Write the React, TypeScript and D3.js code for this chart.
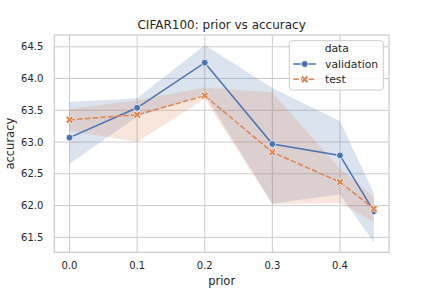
import React from 'react';
import * as d3 from 'd3';

// prior values on the x axis
const priors = [0, 0.1, 0.2, 0.3, 0.4, 0.45];

// validation accuracy: mean and confidence band
const valMean = [63.07, 63.54, 64.25, 62.97, 62.79, 61.91];
const valLow = [62.66, 63.40, 63.75, 62.03, 62.18, 61.42];
const valHigh = [63.63, 63.69, 64.53, 63.85, 63.33, 62.20];

// test accuracy: mean and confidence band
const testMean = [63.35, 63.43, 63.73, 62.84, 62.37, 61.95];
const testLow = [63.18, 63.00, 63.68, 62.02, 62.04, 61.74];
const testHigh = [63.52, 63.66, 63.86, 63.78, 62.58, 62.14];

const xTicks = [0, 0.1, 0.2, 0.3, 0.4];
const yTicks = [61.5, 62.0, 62.5, 63.0, 63.5, 64.0, 64.5];

const seriesNames = ['validation', 'test'];

const W = 432;
const H = 288;
const margin = { top: 35, right: 43, bottom: 35.7, left: 54.3 };

const BLUE = '#4c72b0';
const ORANGE = '#dd8452';
const GRID = '#cccccc';
const TEXT = '#262626';
const FONT = 'DejaVu Sans, sans-serif';

// matplotlib style filled "X" marker
function xMarkerPath(r: number, w: number) {
  const pts = [
    [-w, r], [w, r], [w, w], [r, w], [r, -w], [w, -w],
    [w, -r], [-w, -r], [-w, -w], [-r, -w], [-r, w], [-w, w],
  ];
  const c = Math.SQRT1_2;
  const rot = pts.map(([x, y]) => [(x - y) * c, (x + y) * c]);
  return 'M' + rot.map(p => p.join(',')).join('L') + 'Z';
}

export default function App() {
  const left = margin.left;
  const right = W - margin.right;
  const top = margin.top;
  const bottom = H - margin.bottom;

  const xPad = (d3.max(priors)! - d3.min(priors)!) * 0.05;
  const x = d3.scaleLinear()
    .domain([d3.min(priors)! - xPad, d3.max(priors)! + xPad])
    .range([left, right]);

  const yMin = d3.min([...valLow, ...testLow])!;
  const yMax = d3.max([...valHigh, ...testHigh])!;
  const yPad = (yMax - yMin) * 0.05;
  const y = d3.scaleLinear()
    .domain([yMin - yPad, yMax + yPad])
    .range([bottom, top]);

  const bandPath = (low: number[], high: number[]) =>
    d3.area<number>()
      .x((_, i) => x(priors[i]))
      .y0((_, i) => y(low[i]))
      .y1((_, i) => y(high[i]))(priors) || '';

  const line = (vals: number[]) =>
    d3.line<number>()
      .x((_, i) => x(priors[i]))
      .y(d => y(d))(vals) || '';

  const xPath = xMarkerPath(4.2, 1.3);

  return (
    <svg
      width={W}
      height={H}
      style={{ position: 'absolute', left: 0, top: 0, background: '#fff', fontFamily: FONT }}
    >
      {/* grid */}
      {xTicks.map(t => (
        <line key={'gx' + t} x1={x(t)} x2={x(t)} y1={top} y2={bottom} stroke={GRID} strokeWidth={1} />
      ))}
      {yTicks.map(t => (
        <line key={'gy' + t} x1={left} x2={right} y1={y(t)} y2={y(t)} stroke={GRID} strokeWidth={1} />
      ))}

      {/* confidence bands */}
      <path d={bandPath(valLow, valHigh)} fill={BLUE} fillOpacity={0.2} />
      <path d={bandPath(testLow, testHigh)} fill={ORANGE} fillOpacity={0.2} />

      {/* lines */}
      <path d={line(valMean)} fill="none" stroke={BLUE} strokeWidth={1.5} />
      <path d={line(testMean)} fill="none" stroke={ORANGE} strokeWidth={1.5} strokeDasharray="5.5,2.2" />

      {/* markers */}
      {valMean.map((v, i) => (
        <circle key={'vm' + i} cx={x(priors[i])} cy={y(v)} r={3.4} fill={BLUE} stroke="#fff" strokeWidth={0.75} />
      ))}
      {testMean.map((v, i) => (
        <path key={'tm' + i} d={xPath} transform={`translate(${x(priors[i])},${y(v)})`} fill={ORANGE} stroke="#fff" strokeWidth={0.75} />
      ))}

      {/* frame */}
      <rect x={left} y={top} width={right - left} height={bottom - top} fill="none" stroke={GRID} strokeWidth={1.25} />

      {/* tick labels */}
      {xTicks.map(t => (
        <text key={'tx' + t} x={x(t)} y={bottom + 17} textAnchor="middle" fontSize={10} fill={TEXT}>
          {d3.format('.1f')(t)}
        </text>
      ))}
      {yTicks.map(t => (
        <text key={'ty' + t} x={left - 11} y={y(t) + 3.6} textAnchor="end" fontSize={10} fill={TEXT}>
          {d3.format('.1f')(t)}
        </text>
      ))}

      {/* axis labels and title */}
      <text x={(left + right) / 2} y={H - 3.5} textAnchor="middle" fontSize={11.5} fill={TEXT}>prior</text>
      <text transform={`translate(13.5,${(top + bottom) / 2}) rotate(-90)`} textAnchor="middle" fontSize={11.5} fill={TEXT}>accuracy</text>
      <text x={(left + right) / 2} y={29} textAnchor="middle" fontSize={12} fill={TEXT}>CIFAR100: prior vs accuracy</text>

      {/* legend */}
      <g transform="translate(289.3,40.7)">
        <rect x={0} y={0} width={94} height={49.3} rx={3} fill="#fff" fillOpacity={0.8} stroke={GRID} strokeWidth={1} />
        <text x={47.5} y={11.5} textAnchor="middle" fontSize={10.8} fill={TEXT}>data</text>
        {seriesNames.map((name, i) => {
          const cy = 23.3 + i * 15.3;
          const isVal = i === 0;
          return (
            <g key={name}>
              <line x1={4} x2={26.7} y1={cy} y2={cy} stroke={isVal ? BLUE : ORANGE} strokeWidth={1.5} strokeDasharray={isVal ? undefined : '5.5,2.2'} />
              {isVal ? (
                <circle cx={15.4} cy={cy} r={3.4} fill={BLUE} stroke="#fff" strokeWidth={0.75} />
              ) : (
                <path d={xPath} transform={`translate(15.4,${cy})`} fill={ORANGE} stroke="#fff" strokeWidth={0.75} />
              )}
              <text x={35.7} y={cy + 3.9} fontSize={10.8} fill={TEXT}>{name}</text>
            </g>
          );
        })}
      </g>
    </svg>
  );
}
